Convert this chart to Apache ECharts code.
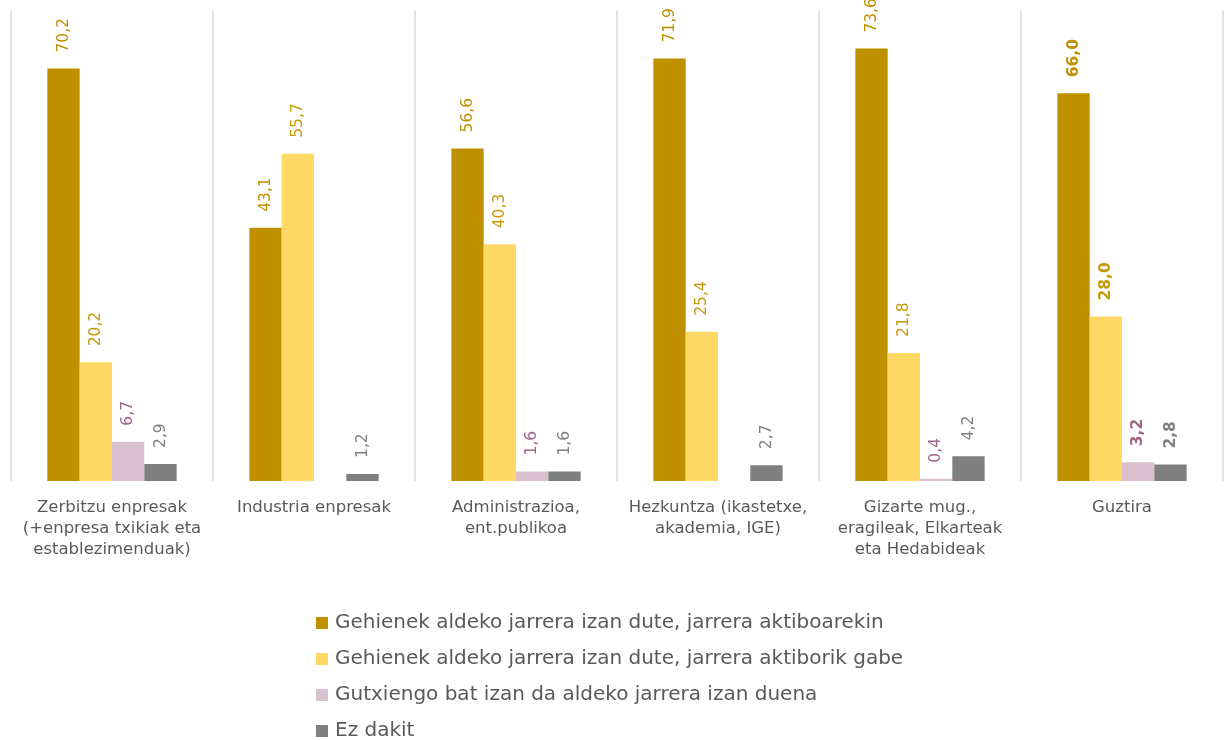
<!DOCTYPE html>
<html>
<head>
<meta charset="utf-8">
<script src="https://cdn.jsdelivr.net/npm/echarts@6/dist/echarts.min.js"></script>
<style>
html,body{margin:0;padding:0;background:#fff;}
#chart{width:1227px;height:740px;}
</style>
</head>
<body>
<div id="chart"></div>
<script>
var categories = [
  "Zerbitzu enpresak\n(+enpresa txikiak eta\nestablezimenduak)",
  "Industria enpresak",
  "Administrazioa,\nent.publikoa",
  "Hezkuntza (ikastetxe,\nakademia, IGE)",
  "Gizarte mug.,\neragileak, Elkarteak\neta Hedabideak",
  "Guztira"
];
var seriesNames = [
  "Gehienek aldeko jarrera izan dute, jarrera aktiboarekin",
  "Gehienek aldeko jarrera izan dute, jarrera aktiborik gabe",
  "Gutxiengo bat izan da aldeko jarrera izan duena",
  "Ez dakit"
];
var aktiboarekin = [70.2, 43.1, 56.6, 71.9, 73.6, 66.0];
var aktiborikGabe = [20.2, 55.7, 40.3, 25.4, 21.8, 28.0];
var gutxiengoa = [6.7, null, 1.6, null, 0.4, 3.2];
var ezDakit = [2.9, 1.2, 1.6, 2.7, 4.2, 2.8];

var barColors = ["#BF9000", "#FFD966", "#D9C0CE", "#7F7F7F"];
var labelColors = ["#BF9000", "#C59B0A", "#A0668A", "#7F7F7F"];
var allData = [aktiboarekin, aktiborikGabe, gutxiengoa, ezDakit];

var FONT = "DejaVu Sans";

function fmt(p) {
  if (p.value == null || p.value === '-') return '';
  return Number(p.value).toFixed(1).replace('.', ',');
}

var series = allData.map(function (arr, si) {
  return {
    name: seriesNames[si],
    type: 'bar',
    barGap: '0%',
    barCategoryGap: '36%',
    itemStyle: { color: barColors[si] },
    data: arr.map(function (v, i) {
      var d = { value: v == null ? '-' : v };
      if (i === arr.length - 1) {
        d.label = { fontWeight: 'bold' };
      }
      return d;
    }),
    label: {
      show: true,
      position: 'top',
      rotate: 90,
      align: 'left',
      verticalAlign: 'middle',
      distance: 16,
      color: labelColors[si],
      fontFamily: FONT,
      fontSize: 15.5,
      formatter: fmt
    }
  };
});

var chart = echarts.init(document.getElementById('chart'), null, { renderer: 'canvas' });
chart.setOption({
  animation: false,
  backgroundColor: '#ffffff',
  grid: { left: 11, right: 4, top: 11, bottom: 259, containLabel: false },
  legend: {
    orient: 'vertical',
    left: 316,
    top: 613,
    height: 170,
    padding: 0,
    itemWidth: 12,
    itemHeight: 12,
    itemGap: 16,
    icon: 'rect',
    textStyle: { color: '#595959', fontFamily: FONT, fontSize: 20, padding: [0, 0, 0, 2] },
    data: seriesNames
  },
  xAxis: {
    type: 'category',
    data: categories,
    axisLine: { show: false },
    axisTick: { show: false },
    splitLine: { show: true, lineStyle: { color: '#D9D9D9', width: 1.5 } },
    axisLabel: {
      interval: 0,
      margin: 16,
      color: '#595959',
      fontFamily: FONT,
      fontSize: 16.5,
      lineHeight: 21
    }
  },
  yAxis: {
    type: 'value',
    min: 0,
    max: 80,
    show: false,
    splitLine: { show: false }
  },
  series: series
});
</script>
</body>
</html>
